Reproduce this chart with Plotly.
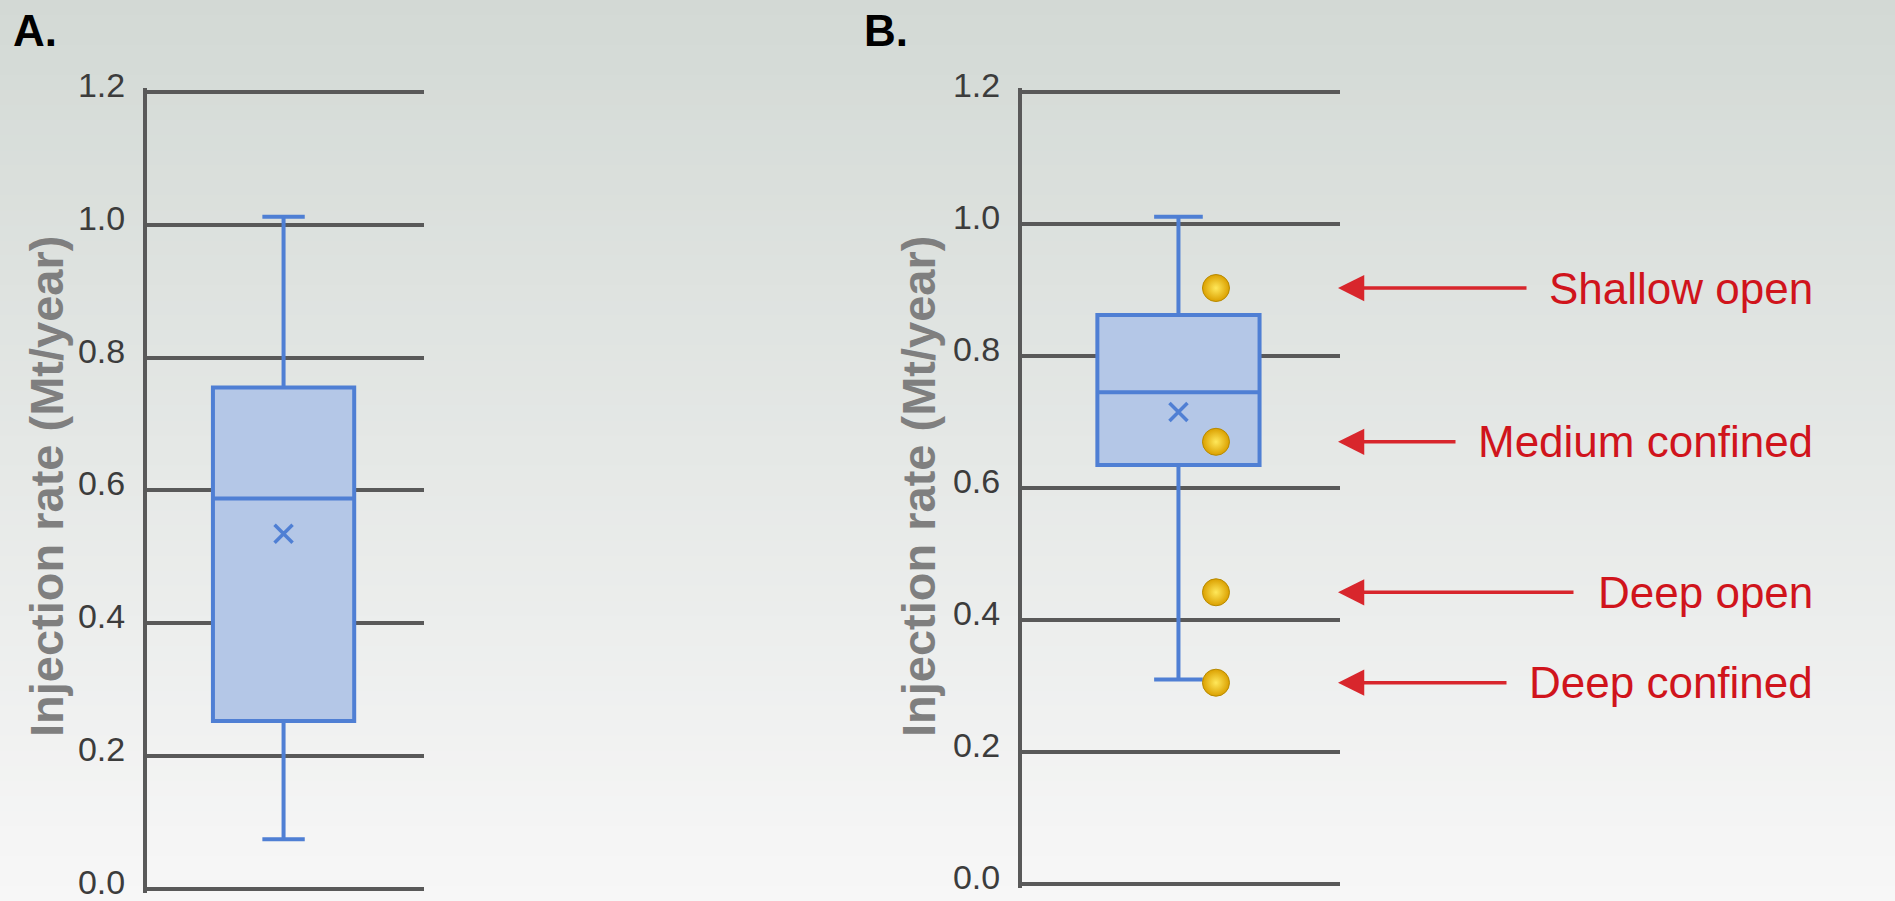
import plotly.graph_objects as go

# ---------------- data ----------------
panel_labels = ["A.", "B."]
axis_title = "Injection rate (Mt/year)"
y_ticks = [0.0, 0.2, 0.4, 0.6, 0.8, 1.0, 1.2]
y_tick_text = ["0.0", "0.2", "0.4", "0.6", "0.8", "1.0", "1.2"]

# panel A box statistics
a_lower = [0.075]
a_q1 = [0.253]
a_median = [0.588]
a_q3 = [0.755]
a_upper = [1.012]
a_mean = [0.535]

# panel B box statistics
b_lower = [0.31]
b_q1 = [0.635]
b_median = [0.745]
b_q3 = [0.862]
b_upper = [1.011]
b_mean = [0.715]

# panel B highlighted scenarios
scenarios = ["Shallow open", "Medium confined", "Deep open", "Deep confined"]
scenario_values = [0.903, 0.670, 0.442, 0.305]

# ---------------- style ----------------
W, H = 1895, 901
BOX_LINE = "#4f7fd4"
BOX_FILL = "#b4c7e7"
GRID = "#595959"
FONT = "Liberation Sans, Arial, sans-serif"
RED_TEXT = "#d0141c"
ARROW = "#d8262c"
PAD = 0.006  # small range padding so that the 0.0 and 1.2 gridlines are drawn

fig = go.Figure()

for xa, ya, lo, q1, me, q3, up, mn in [
    ("x", "y", a_lower, a_q1, a_median, a_q3, a_upper, a_mean),
    ("x2", "y2", b_lower, b_q1, b_median, b_q3, b_upper, b_mean),
]:
    fig.add_trace(go.Box(
        x=[0], lowerfence=lo, q1=q1, median=me, q3=q3, upperfence=up,
        width=0.51, whiskerwidth=0.3,
        fillcolor=BOX_FILL, line=dict(color=BOX_LINE, width=4),
        boxpoints=False, showlegend=False, hoverinfo="y",
        xaxis=xa, yaxis=ya,
    ))
    fig.add_trace(go.Scatter(
        x=[0], y=mn, mode="markers", showlegend=False,
        marker=dict(symbol="x-thin", size=18, line=dict(color=BOX_LINE, width=3.5)),
        xaxis=xa, yaxis=ya,
    ))

fig.add_trace(go.Scatter(
    x=[0.118] * len(scenario_values), y=scenario_values, mode="markers",
    showlegend=False, text=scenarios, hoverinfo="text+y",
    marker=dict(size=27, color="#dba000",
                gradient=dict(type="radial", color="#ffe85a"),
                line=dict(color="#b88a00", width=1)),
    xaxis="x2", yaxis="y2",
))

# background gradient bands
top = (211, 217, 213)
bot = (247, 247, 247)
n = 60
shapes = []
for i in range(n):
    t = i / (n - 1)
    c = tuple(round(top[k] + (bot[k] - top[k]) * t) for k in range(3))
    shapes.append(dict(type="rect", xref="paper", yref="paper", layer="below",
                       x0=0, x1=1, y0=max(0, 1 - (i + 1) / n - 0.002), y1=1 - i / n,
                       line=dict(width=0), fillcolor="rgb(%d,%d,%d)" % c))

annotations = []
for lbl, px in zip(panel_labels, [11, 862]):
    annotations.append(dict(text="<b>%s</b>" % lbl, xref="paper", yref="paper",
                            x=px / W, y=1 - 4 / H, xanchor="left", yanchor="top",
                            showarrow=False,
                            font=dict(family=FONT, size=44, color="#000000")))

for cx in [46, 918]:
    annotations.append(dict(text="<b>%s</b>" % axis_title, xref="paper", yref="paper",
                            x=cx / W, y=1 - 487 / H, xanchor="center", yanchor="middle",
                            textangle=-90, showarrow=False,
                            font=dict(family=FONT, size=47, color="#7f7f7f")))

tail_px = [1528, 1457, 1575, 1508]
tip_px = 1338
label_right = 1815
for name, val, tail in zip(scenarios, scenario_values, tail_px):
    annotations.append(dict(text="", xref="paper", yref="y2", x=tip_px / W, y=val,
                            axref="pixel", ayref="pixel", ax=tail - tip_px, ay=0,
                            showarrow=True, arrowhead=2, arrowsize=1.5,
                            arrowwidth=3.5, arrowcolor=ARROW))
    annotations.append(dict(text=name, xref="paper", yref="y2", x=label_right / W,
                            y=val, xanchor="right", yanchor="middle", showarrow=False,
                            font=dict(family=FONT, size=44, color=RED_TEXT)))


def yax(px_bottom, px_top, anchor):
    per = (px_bottom - px_top) / 1.2
    b = px_bottom + PAD * per
    t = px_top - PAD * per
    return dict(domain=[(H - b) / H, (H - t) / H], anchor=anchor,
                range=[-PAD, 1.2 + PAD], automargin=False,
                tickvals=y_ticks, ticktext=y_tick_text, ticks="",
                ticklabelstandoff=11, ticklabeloverflow="allow", ticklabelshift=-7,
                tickfont=dict(family=FONT, size=34, color="#3c3c3c"),
                showgrid=True, gridcolor=GRID, gridwidth=4,
                zeroline=False, showline=True, linecolor=GRID, linewidth=4)


def xax(domain, anchor, rng):
    return dict(domain=domain, anchor=anchor, range=rng, showgrid=False,
                automargin=False, zeroline=False, showline=False,
                showticklabels=False, ticks="")


fig.update_layout(
    width=W, height=H, margin=dict(l=0, r=0, t=0, b=0, pad=0, autoexpand=False),
    paper_bgcolor="rgba(0,0,0,0)", plot_bgcolor="rgba(0,0,0,0)",
    xaxis=xax([147 / W, 424 / W], "y", [-0.493, 0.507]),
    yaxis=yax(889, 92, "x"),
    xaxis2=xax([1022 / W, 1340 / W], "y2", [-0.492, 0.508]),
    yaxis2=yax(884, 92, "x2"),
    shapes=shapes, annotations=annotations, showlegend=False,
)

fig.write_html("out.html", config={"displayModeBar": False},
               post_script="document.body.style.margin='0';"
                           "document.body.style.overflow='hidden';")
